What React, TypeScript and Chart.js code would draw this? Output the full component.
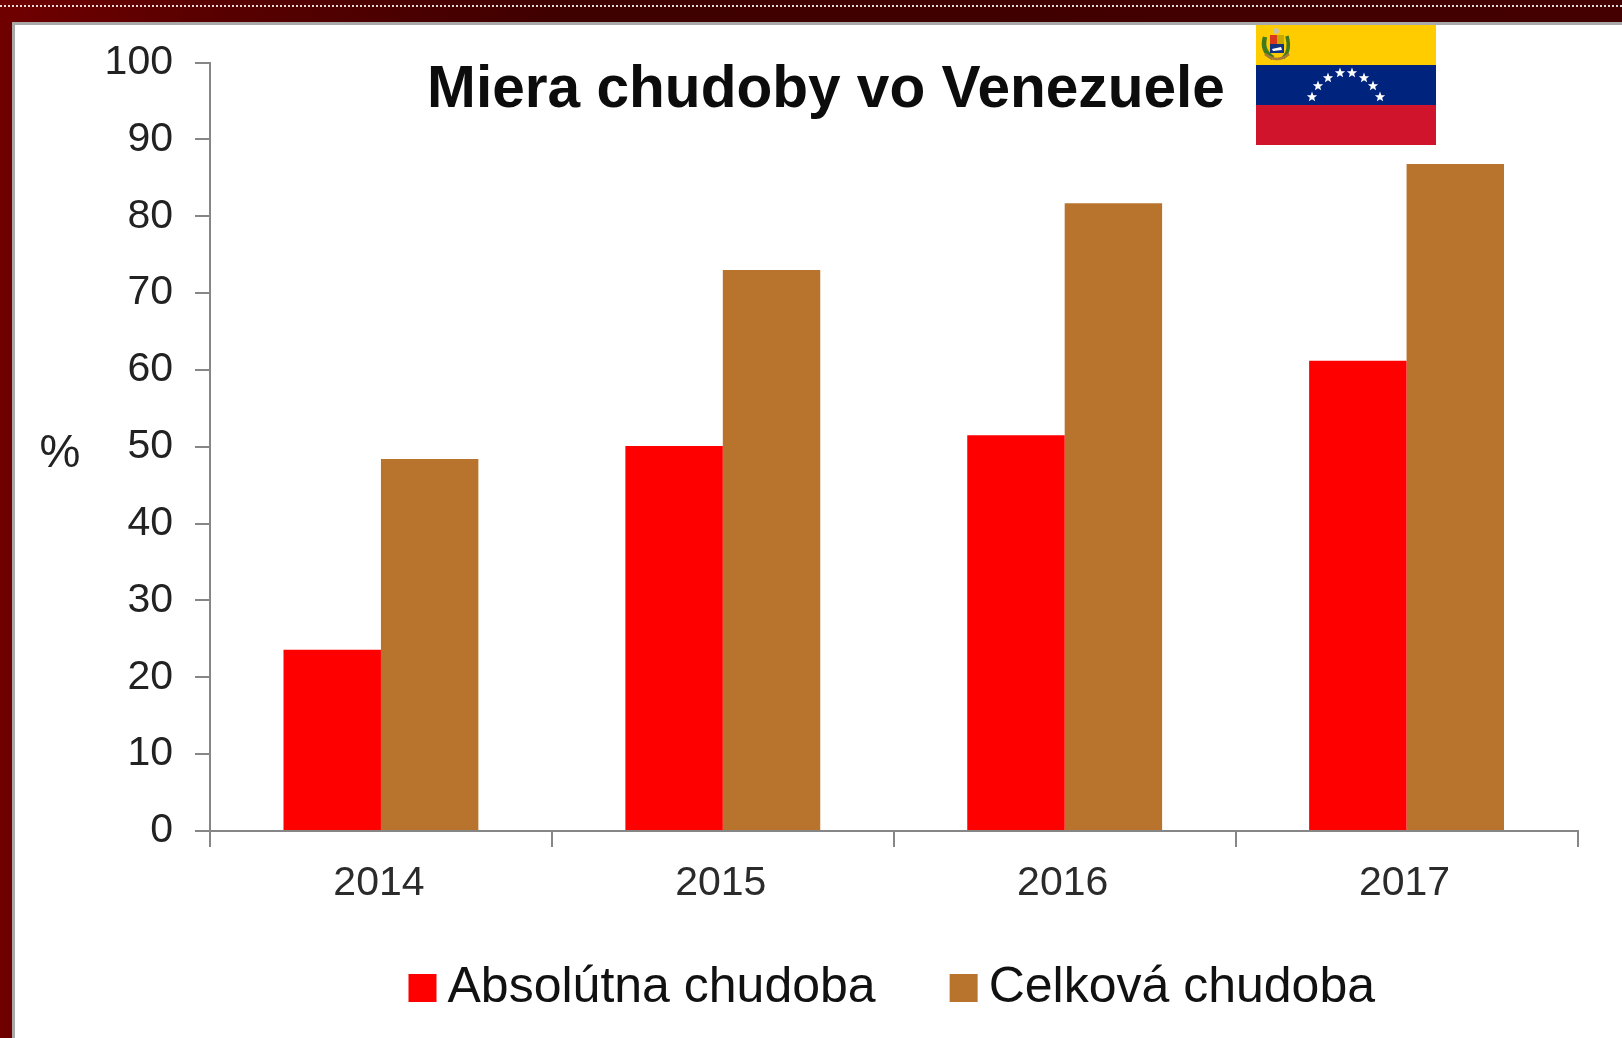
import React, { useEffect, useRef } from "react";
import { Chart, registerables } from "chart.js";

Chart.register(...registerables);

const categories = ["2014", "2015", "2016", "2017"];
const absolutna = [23.6, 50.1, 51.5, 61.2];
const celkova = [48.4, 73, 81.7, 86.8];
const seriesNames = ["Absolútna chudoba", "Celková chudoba"];
const chartTitle = "Miera chudoby vo Venezuele";
const unitLabel = "%";
const FONT = '"Liberation Sans", Arial, sans-serif';
const AXIS = "#868686";

const starSpots = [
  [56, 72], [62, 61], [72, 53], [84, 48], [96, 48], [108, 53], [117, 61], [124, 72],
];

function starPath(cx: number, cy: number, r: number) {
  let d = "";
  for (let i = 0; i < 10; i++) {
    const rad = i % 2 === 0 ? r : r * 0.42;
    const a = -Math.PI / 2 + (i * Math.PI) / 5;
    d += `${i === 0 ? "M" : "L"}${(cx + rad * Math.cos(a)).toFixed(2)} ${(cy + rad * Math.sin(a)).toFixed(2)}`;
  }
  return d + "Z";
}

const percentPlugin = {
  id: "unitLabel",
  afterLayout(chart: any) {
    chart.legend.top = 875;
    chart.legend.left += 5;
    chart.legend.right += 5;
  },
  afterDraw(chart: any) {
    const { ctx } = chart;
    ctx.save();
    ctx.font = `46px ${FONT}`;
    ctx.fillStyle = "#222222";
    ctx.textAlign = "center";
    ctx.textBaseline = "middle";
    ctx.fillText(unitLabel, 60, 454);
    ctx.restore();
  },
};

export default function App() {
  const ref = useRef<HTMLCanvasElement>(null);
  useEffect(() => {
    const chart = new Chart(ref.current!, {
      type: "bar",
      data: {
        labels: categories,
        datasets: [
          { label: seriesNames[0], data: absolutna, backgroundColor: "#ff0000", borderWidth: 0 },
          { label: seriesNames[1], data: celkova, backgroundColor: "#b8732d", borderWidth: 0 },
        ],
      },
      options: {
        responsive: false,
        animation: false,
        layout: { padding: { left: 74.5, right: 44.5, top: 62.5, bottom: -16 } },
        datasets: { bar: { categoryPercentage: 0.57, barPercentage: 1 } },
        scales: {
          x: {
            afterFit(s: any) {
              s.height = 75;
              s.paddingLeft = 0;
              s.paddingRight = 0;
            },
            border: { color: AXIS, width: 2 },
            grid: { color: AXIS, lineWidth: 2, drawOnChartArea: false, tickLength: 16, offset: true },
            ticks: { color: "#2b2b2b", font: { family: FONT, size: 41 }, padding: 12, labelOffset: -2, maxRotation: 0 },
          },
          y: {
            min: 0,
            max: 100,
            afterFit(s: any) {
              s.width = 135.5;
              s.paddingTop = 0;
              s.paddingBottom = 0;
            },
            border: { color: AXIS, width: 2 },
            grid: { color: AXIS, lineWidth: 2, drawOnChartArea: false, tickLength: 15 },
            ticks: { stepSize: 10, color: "#222222", font: { family: FONT, size: 41 }, padding: 22 },
          },
        },
        plugins: {
          tooltip: { enabled: false },
          title: {
            display: true,
            text: chartTitle,
            color: "#0c0c0c",
            font: { family: FONT, size: 58.6, weight: "bold", lineHeight: 1.2 },
            padding: { top: -7, bottom: -63.32 },
          },
          legend: {
            display: true,
            position: "bottom",
            fullSize: false,
            labels: {
              color: "#111111",
              font: { family: FONT, size: 50 },
              usePointStyle: true,
              pointStyle: "rect",
              boxWidth: 0.01,
              boxHeight: 28,
              padding: 88,
            },
          },
        },
      },
      plugins: [percentPlugin],
    } as any);
    return () => chart.destroy();
  }, []);

  return (
    <div
      style={{
        position: "fixed",
        left: 0,
        top: 0,
        width: 1622,
        height: 1038,
        overflow: "hidden",
        background: "linear-gradient(90deg, #700000 0%, #5a0000 12%, #3f0000 35%, #440000 100%)",
      }}
    >
      <div
        style={{
          position: "absolute",
          left: 0,
          right: 0,
          top: 5,
          height: 2,
          background: "repeating-linear-gradient(90deg, #ffffff 0 2px, rgba(255,255,255,0) 2px 4px)",
          opacity: 0.85,
        }}
      />
      <div
        style={{
          position: "absolute",
          left: 12,
          top: 22,
          right: 0,
          bottom: 0,
          background: "#ffffff",
          borderLeft: "3px solid #a9a9a9",
          borderTop: "3px solid #a9a9a9",
          boxSizing: "border-box",
        }}
      />
      <canvas ref={ref} width={1622} height={1038} style={{ position: "absolute", left: 0, top: 0, display: "block" }} />
      <svg width={180} height={120} viewBox="0 0 180 120" style={{ position: "absolute", left: 1256, top: 25 }}>
        <rect x={0} y={0} width={180} height={40} fill="#ffcc00" />
        <rect x={0} y={40} width={180} height={40} fill="#00247d" />
        <rect x={0} y={80} width={180} height={40} fill="#cf142b" />
        {starSpots.map(([x, y], i) => (
          <path key={i} d={starPath(x, y, 5.4)} fill="#ffffff" />
        ))}
        <path d="M9 12 Q5 26 17 33" stroke="#3f7a1e" strokeWidth={4.5} fill="none" />
        <path d="M31 11 Q35 26 27 33" stroke="#3f7a1e" strokeWidth={3.5} fill="none" />
        <rect x={14} y={10} width={7} height={9} fill="#d8391d" />
        <rect x={21} y={10} width={7} height={9} fill="#c9a800" />
        <rect x={14} y={19} width={14} height={9} fill="#12337f" />
        <path d="M16 24 L25 22 L26 25 L17 26Z" fill="#ffffff" />
        <path d="M9 29 Q21 39 33 29" stroke="#a87a35" strokeWidth={2.6} fill="none" />
        <circle cx={20} cy={6} r={3} fill="#c9c4a5" />
      </svg>
    </div>
  );
}
